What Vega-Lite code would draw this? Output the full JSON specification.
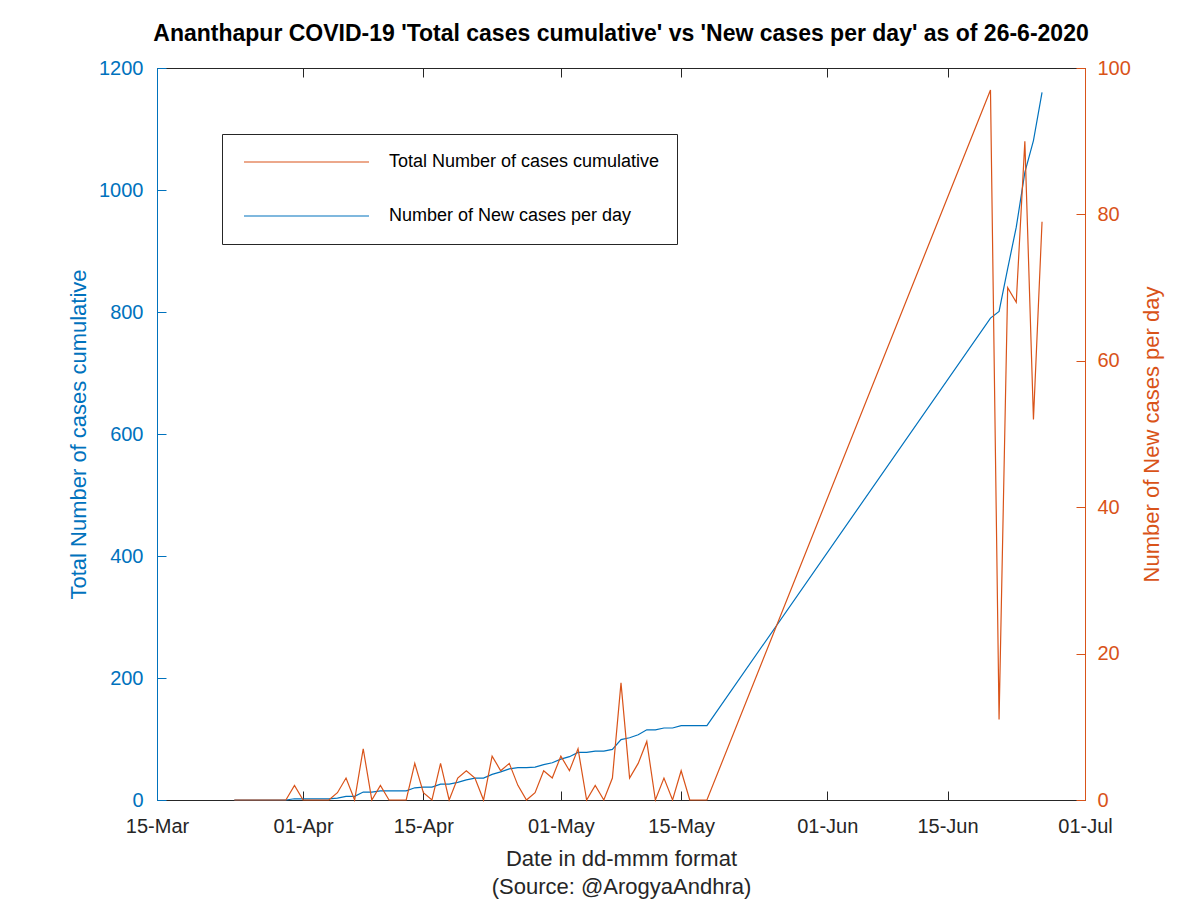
{
  "$schema": "https://vega.github.io/schema/vega-lite/v6.json",
  "autosize": "none",
  "width": 928,
  "height": 732,
  "padding": {"left": 157, "top": 68, "right": 115, "bottom": 100},
  "background": "white",
  "title": {"text": "Ananthapur COVID-19 'Total cases cumulative' vs 'New cases per day' as of 26-6-2020", "fontSize": 23, "font": "Liberation Sans", "fontWeight": "bold", "anchor": "middle", "offset": 12, "color": "black"},
  "config": {
    "view": {"stroke": null},
    "axis": {"grid": false, "labelFont": "Liberation Sans", "titleFont": "Liberation Sans", "labelFontSize": 20, "titleFontSize": 22, "titleFontWeight": "normal", "tickSize": -9, "labelFlush": false, "domainWidth": 1, "tickWidth": 1},
    "legend": {"orient": "none", "legendX": 65, "legendY": 66, "padding": 17, "strokeColor": "#262626", "fillColor": "white", "labelFontSize": 18, "labelFont": "Liberation Sans", "labelColor": "black", "rowPadding": 32, "symbolOffset": 4, "labelOffset": 19, "symbolType": "stroke", "symbolSize": 15625, "symbolStrokeWidth": 1.2, "clipHeight": 22, "labelLimit": 400}
  },
  "data": {"values": [
    {"date": "2020-03-24", "total": 0, "new": 0},
    {"date": "2020-03-25", "total": 0, "new": 0},
    {"date": "2020-03-26", "total": 0, "new": 0},
    {"date": "2020-03-27", "total": 0, "new": 0},
    {"date": "2020-03-28", "total": 0, "new": 0},
    {"date": "2020-03-29", "total": 0, "new": 0},
    {"date": "2020-03-30", "total": 0, "new": 0},
    {"date": "2020-03-31", "total": 2, "new": 2},
    {"date": "2020-04-01", "total": 2, "new": 0},
    {"date": "2020-04-02", "total": 2, "new": 0},
    {"date": "2020-04-03", "total": 2, "new": 0},
    {"date": "2020-04-04", "total": 2, "new": 0},
    {"date": "2020-04-05", "total": 3, "new": 1},
    {"date": "2020-04-06", "total": 6, "new": 3},
    {"date": "2020-04-07", "total": 6, "new": 0},
    {"date": "2020-04-08", "total": 13, "new": 7},
    {"date": "2020-04-09", "total": 13, "new": 0},
    {"date": "2020-04-10", "total": 15, "new": 2},
    {"date": "2020-04-11", "total": 15, "new": 0},
    {"date": "2020-04-12", "total": 15, "new": 0},
    {"date": "2020-04-13", "total": 15, "new": 0},
    {"date": "2020-04-14", "total": 20, "new": 5},
    {"date": "2020-04-15", "total": 21, "new": 1},
    {"date": "2020-04-16", "total": 21, "new": 0},
    {"date": "2020-04-17", "total": 26, "new": 5},
    {"date": "2020-04-18", "total": 26, "new": 0},
    {"date": "2020-04-19", "total": 29, "new": 3},
    {"date": "2020-04-20", "total": 33, "new": 4},
    {"date": "2020-04-21", "total": 36, "new": 3},
    {"date": "2020-04-22", "total": 36, "new": 0},
    {"date": "2020-04-23", "total": 42, "new": 6},
    {"date": "2020-04-24", "total": 46, "new": 4},
    {"date": "2020-04-25", "total": 51, "new": 5},
    {"date": "2020-04-26", "total": 53, "new": 2},
    {"date": "2020-04-27", "total": 53, "new": 0},
    {"date": "2020-04-28", "total": 54, "new": 1},
    {"date": "2020-04-29", "total": 58, "new": 4},
    {"date": "2020-04-30", "total": 61, "new": 3},
    {"date": "2020-05-01", "total": 67, "new": 6},
    {"date": "2020-05-02", "total": 71, "new": 4},
    {"date": "2020-05-03", "total": 78, "new": 7},
    {"date": "2020-05-04", "total": 78, "new": 0},
    {"date": "2020-05-05", "total": 80, "new": 2},
    {"date": "2020-05-06", "total": 80, "new": 0},
    {"date": "2020-05-07", "total": 83, "new": 3},
    {"date": "2020-05-08", "total": 99, "new": 16},
    {"date": "2020-05-09", "total": 102, "new": 3},
    {"date": "2020-05-10", "total": 107, "new": 5},
    {"date": "2020-05-11", "total": 115, "new": 8},
    {"date": "2020-05-12", "total": 115, "new": 0},
    {"date": "2020-05-13", "total": 118, "new": 3},
    {"date": "2020-05-14", "total": 118, "new": 0},
    {"date": "2020-05-15", "total": 122, "new": 4},
    {"date": "2020-05-16", "total": 122, "new": 0},
    {"date": "2020-05-17", "total": 122, "new": 0},
    {"date": "2020-05-18", "total": 122, "new": 0},
    {"date": "2020-06-20", "total": 790, "new": 97},
    {"date": "2020-06-21", "total": 801, "new": 11},
    {"date": "2020-06-22", "total": 871, "new": 70},
    {"date": "2020-06-23", "total": 939, "new": 68},
    {"date": "2020-06-24", "total": 1029, "new": 90},
    {"date": "2020-06-25", "total": 1081, "new": 52},
    {"date": "2020-06-26", "total": 1160, "new": 79}
  ]},
  "layer": [
    {
      "mark": {"type": "line", "strokeWidth": 1.2},
      "encoding": {
        "x": {"field": "date", "type": "temporal",
          "scale": {"type": "utc", "domain": [{"year": 2020, "month": 3, "date": 15, "utc": true}, {"year": 2020, "month": 7, "date": 1, "utc": true}], "nice": false},
          "axis": {"orient": "bottom", "format": "%d-%b",
            "values": [{"year": 2020, "month": 3, "date": 15, "utc": true}, {"year": 2020, "month": 4, "date": 1, "utc": true}, {"year": 2020, "month": 4, "date": 15, "utc": true}, {"year": 2020, "month": 5, "date": 1, "utc": true}, {"year": 2020, "month": 5, "date": 15, "utc": true}, {"year": 2020, "month": 6, "date": 1, "utc": true}, {"year": 2020, "month": 6, "date": 15, "utc": true}, {"year": 2020, "month": 7, "date": 1, "utc": true}],
            "labelColor": "#262626", "tickColor": "#262626", "domainColor": "#262626", "labelPadding": 25,
            "title": ["Date in dd-mmm format", "(Source: @ArogyaAndhra)"], "titleColor": "#262626", "titleLineHeight": 28, "titlePadding": 12}},
        "y": {"field": "total", "type": "quantitative",
          "scale": {"domain": [0, 1200], "nice": false},
          "axis": {"orient": "left", "format": "d", "values": [0, 200, 400, 600, 800, 1000, 1200], "title": "Total Number of cases cumulative",
            "labelColor": "#0072BD", "titleColor": "#0072BD", "domainColor": "#0072BD", "tickColor": "#0072BD", "labelPadding": 23, "titlePadding": 8}},
        "color": {"datum": "Number of New cases per day", "type": "nominal",
          "scale": {"domain": ["Total Number of cases cumulative", "Number of New cases per day"], "range": ["#D95319", "#0072BD"]},
          "legend": {"title": null}}
      }
    },
    {
      "mark": {"type": "line", "strokeWidth": 1.2},
      "encoding": {
        "x": {"field": "date", "type": "temporal",
          "axis": {"orient": "top", "labels": false, "title": null,
            "values": [{"year": 2020, "month": 3, "date": 15, "utc": true}, {"year": 2020, "month": 4, "date": 1, "utc": true}, {"year": 2020, "month": 4, "date": 15, "utc": true}, {"year": 2020, "month": 5, "date": 1, "utc": true}, {"year": 2020, "month": 5, "date": 15, "utc": true}, {"year": 2020, "month": 6, "date": 1, "utc": true}, {"year": 2020, "month": 6, "date": 15, "utc": true}, {"year": 2020, "month": 7, "date": 1, "utc": true}],
            "tickColor": "#262626", "domainColor": "#262626"}},
        "y": {"field": "new", "type": "quantitative",
          "scale": {"domain": [0, 100], "nice": false},
          "axis": {"orient": "right", "values": [0, 20, 40, 60, 80, 100], "title": "Number of New cases per day", "titleAngle": 270,
            "labelColor": "#D95319", "titleColor": "#D95319", "domainColor": "#D95319", "tickColor": "#D95319", "labelPadding": 21, "titlePadding": 33}},
        "color": {"datum": "Total Number of cases cumulative", "type": "nominal"}
      }
    }
  ],
  "resolve": {"scale": {"y": "independent"}, "axis": {"x": "independent"}}
}
